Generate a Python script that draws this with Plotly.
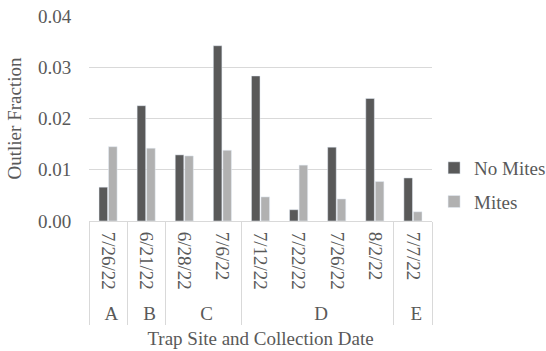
import plotly.graph_objects as go

# Trap site (outer level) and collection date (inner level) for each sample.
# Site A's date carries a zero-width space so it stays a separate inner
# category and the dates inside site D keep their chronological order.
sites = ["A", "B", "C", "C", "D", "D", "D", "D", "E"]
dates = ["7/26/22\u200b", "6/21/22", "6/28/22", "7/6/22", "7/12/22",
         "7/22/22", "7/26/22", "8/2/22", "7/7/22"]

no_mites = [0.0066, 0.0225, 0.0129, 0.0342, 0.0283, 0.0022, 0.0144, 0.0239, 0.0084]
mites = [0.0145, 0.0142, 0.0127, 0.0138, 0.0047, 0.0109, 0.0043, 0.0077, 0.0018]

y_ticks = [0.00, 0.01, 0.02, 0.03, 0.04]

TEXT = "#595959"
SIZE = 19


def font(family="Liberation Serif", size=SIZE):
    return dict(family=family, size=size, color=TEXT)


x = [sites, dates]

fig = go.Figure()
fig.add_trace(go.Bar(x=x, y=no_mites, name="No Mites",
                     marker_color="#595959", legendgroup="a"))
fig.add_trace(go.Bar(x=x, y=mites, name="Mites",
                     marker_color="#b1b1b1", legendgroup="b"))

fig.update_layout(
    width=546, height=351,
    margin=dict(l=89, r=114, t=16, b=130),
    paper_bgcolor="white", plot_bgcolor="white",
    font=font(),
    barmode="group", bargap=0.5, bargroupgap=0.1,
    showlegend=True,
    legend=dict(xref="container", yref="container", x=0.795, y=0.473,
                xanchor="left", yanchor="middle",
                font=font(), tracegroupgap=6, itemwidth=30,
                bgcolor="rgba(0,0,0,0)"),
)

fig.update_yaxes(
    range=[0, 0.04], tickvals=y_ticks, tickformat=".2f",
    showgrid=True, gridcolor="#d9d9d9", gridwidth=1,
    zeroline=False, showline=False,
    ticks="outside", ticklen=13, tickcolor="rgba(0,0,0,0)",
    tickfont=font(),
    title=dict(text="Outlier Fraction", font=font(), standoff=11),
    automargin=False,
)

fig.update_xaxes(
    type="multicategory", tickangle=90,
    showline=True, linecolor="#d9d9d9", linewidth=1,
    showdividers=True, dividercolor="#d9d9d9", dividerwidth=1,
    ticks="", tickfont=font(), ticklabelstandoff=6,
    title=dict(text="Trap Site and Collection Date", font=font(), standoff=8),
    automargin=False,
)

fig.write_html("out.html")
